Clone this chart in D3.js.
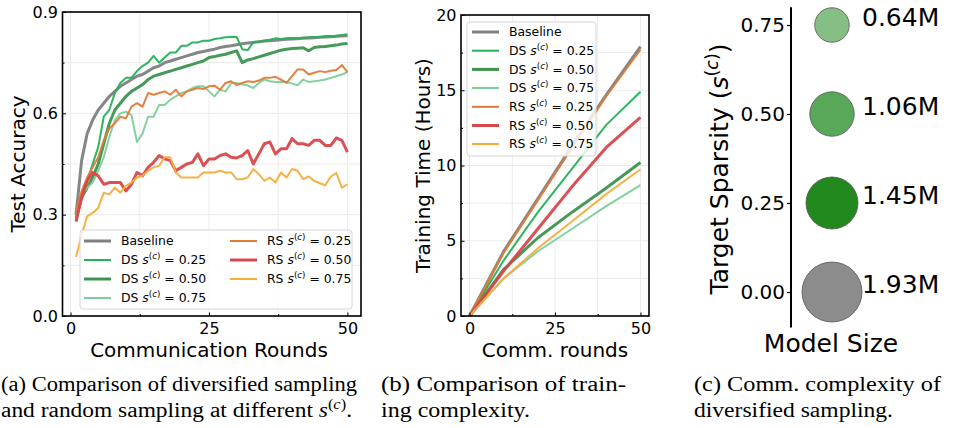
<!DOCTYPE html>
<html>
<head>
<meta charset="UTF-8">
<script src="https://cdn.jsdelivr.net/npm/d3@7"></script>
<style>
body{margin:0;background:#fff}
svg{display:block;font-family:"DejaVu Sans",sans-serif}
.grid line{stroke:#ebebeb;stroke-width:1}
</style>
</head>
<body>
<script>

// ---- data ----
var rounds = [1,2,3,4,5,6,7,8,9,10,11,12,13,14,15,16,17,18,19,20,21,22,23,24,25,
              26,27,28,29,30,31,32,33,34,35,36,37,38,39,40,41,42,43,44,45,46,47,48,49,50];

var accBaseline = [0.30,0.46,0.54,0.58,0.61,0.63,0.65,0.665,0.68,0.69,0.70,0.71,0.715,0.725,0.735,0.74,0.75,0.755,0.76,0.765,
                   0.77,0.775,0.78,0.783,0.787,0.79,0.795,0.798,0.80,0.803,0.806,0.808,0.81,0.812,0.814,0.815,0.816,0.818,0.819,0.82,
                   0.821,0.822,0.823,0.824,0.825,0.826,0.827,0.828,0.829,0.83];
var accDs25 = [0.28,0.36,0.40,0.45,0.50,0.59,0.61,0.66,0.69,0.705,0.705,0.725,0.74,0.75,0.77,0.75,0.765,0.78,0.78,0.80,
               0.80,0.81,0.81,0.815,0.815,0.82,0.822,0.825,0.826,0.826,0.79,0.787,0.81,0.812,0.815,0.818,0.822,0.82,0.822,0.823,
               0.822,0.824,0.825,0.826,0.826,0.828,0.829,0.83,0.832,0.834];
var accDs50 = [0.29,0.35,0.38,0.41,0.45,0.51,0.57,0.61,0.63,0.65,0.665,0.675,0.685,0.70,0.71,0.715,0.72,0.725,0.73,0.735,
               0.74,0.745,0.75,0.755,0.765,0.768,0.772,0.775,0.78,0.785,0.75,0.758,0.762,0.767,0.772,0.777,0.782,0.787,0.79,0.792,
               0.793,0.794,0.785,0.795,0.797,0.798,0.80,0.802,0.805,0.807];
var accDs75 = [0.29,0.36,0.38,0.395,0.43,0.47,0.53,0.58,0.60,0.605,0.595,0.515,0.54,0.59,0.59,0.625,0.625,0.64,0.65,0.66,
               0.665,0.675,0.68,0.68,0.665,0.65,0.67,0.665,0.69,0.69,0.685,0.683,0.675,0.69,0.70,0.695,0.693,0.693,0.693,0.688,
               0.683,0.70,0.693,0.695,0.697,0.70,0.705,0.71,0.715,0.722];
var accRs25 = [0.31,0.37,0.41,0.44,0.47,0.52,0.555,0.57,0.59,0.585,0.62,0.63,0.62,0.66,0.655,0.66,0.665,0.655,0.67,0.65,
               0.665,0.67,0.675,0.672,0.68,0.682,0.67,0.69,0.695,0.684,0.69,0.695,0.693,0.697,0.705,0.705,0.708,0.70,0.69,0.71,
               0.73,0.73,0.715,0.72,0.725,0.722,0.726,0.728,0.743,0.722];
var accRs50 = [0.28,0.35,0.40,0.425,0.415,0.39,0.395,0.395,0.395,0.37,0.39,0.425,0.415,0.44,0.455,0.475,0.465,0.46,0.43,0.44,
               0.45,0.455,0.48,0.445,0.465,0.465,0.475,0.48,0.47,0.468,0.475,0.49,0.45,0.48,0.51,0.515,0.48,0.495,0.495,0.525,
               0.51,0.51,0.505,0.52,0.52,0.505,0.505,0.527,0.52,0.485];
var accRs75 = [0.175,0.24,0.295,0.305,0.32,0.365,0.36,0.38,0.365,0.385,0.395,0.41,0.415,0.43,0.44,0.445,0.47,0.47,0.425,0.41,
               0.41,0.41,0.41,0.425,0.425,0.425,0.43,0.425,0.425,0.405,0.405,0.41,0.435,0.42,0.40,0.41,0.395,0.425,0.41,0.435,
               0.43,0.405,0.413,0.40,0.393,0.387,0.413,0.423,0.38,0.39];

var timeRounds   = [0,10,20,30,40,50];
var timeBaseline = [0,4.3,7.8,11.3,14.7,17.9];
var timeDs25     = [0,3.7,6.9,9.8,12.7,14.9];
var timeDs50     = [0,3.1,5.2,6.9,8.5,10.2];
var timeDs75     = [0,2.5,4.3,5.8,7.3,8.7];
var timeRs25     = [0,4.2,7.7,11.2,14.6,17.7];
var timeRs50     = [0,3.0,5.8,8.6,11.2,13.2];
var timeRs75     = [0,2.5,4.5,6.3,8.1,9.75];

var sparsity   = [0.75,0.50,0.25,0.00];
var modelSize  = [0.64,1.06,1.45,1.93];
var sizeLabels = ["0.64M","1.06M","1.45M","1.93M"];

var accTicks = [0,0.3,0.6,0.9], accMinor = [0.15,0.45,0.75];
var roundTicks = [0,25,50], roundMinor = [12.5,37.5];
var timeTicks = [0,5,10,15,20], timeMinor = [2.5,7.5,12.5,17.5];
var sparsityTicks = [0,0.25,0.5,0.75];

// series table built from the arrays above
var series = [
  {name:"Baseline", val:null,   acc:accBaseline, time:timeBaseline, color:"#808080", w:3},
  {name:"DS",       val:"0.25", acc:accDs25,     time:timeDs25,     color:"#25b05a", w:2},
  {name:"DS",       val:"0.50", acc:accDs50,     time:timeDs50,     color:"#3d9450", w:3},
  {name:"DS",       val:"0.75", acc:accDs75,     time:timeDs75,     color:"#7ccf9c", w:2},
  {name:"RS",       val:"0.25", acc:accRs25,     time:timeRs25,     color:"#e07a36", w:2},
  {name:"RS",       val:"0.50", acc:accRs50,     time:timeRs50,     color:"#d9474a", w:3},
  {name:"RS",       val:"0.75", acc:accRs75,     time:timeRs75,     color:"#f6ad3c", w:2}
];
var circleColors = ["#85bf85","#59a859","#22891f","#8c8c8c"];

var svg = d3.select("body").append("svg").attr("width",956).attr("height",428);

// s^(c) label in tspans
function sLabel(t, prefix, fs, tail){
  if(prefix) t.append("tspan").text(prefix);
  t.append("tspan").attr("font-style","italic").text("s");
  t.append("tspan").attr("font-size",fs*0.7).attr("dy",-fs*0.42).text("(");
  t.append("tspan").attr("font-size",fs*0.7).attr("font-style","italic").text("c");
  t.append("tspan").attr("font-size",fs*0.7).text(")");
  t.append("tspan").attr("dy",fs*0.42).text(tail);
}

function legendText(t, d){
  if(d.val===null) t.text(d.name);
  else sLabel(t, d.name+" ", 12.4, " = "+d.val);
}

function panel(opt){
  var x = d3.scaleLinear().domain(opt.xd).range([opt.left,opt.right]);
  var y = d3.scaleLinear().domain(opt.yd).range([opt.bottom,opt.top]);
  var g = svg.append("g");

  var grid = g.append("g").attr("class","grid");
  grid.selectAll(".gx").data(opt.xt.concat(opt.xm)).join("line")
    .attr("x1",d=>x(d)).attr("x2",d=>x(d)).attr("y1",opt.top).attr("y2",opt.bottom);
  grid.selectAll(".gy").data(opt.yt.concat(opt.ym)).join("line")
    .attr("y1",d=>y(d)).attr("y2",d=>y(d)).attr("x1",opt.left).attr("x2",opt.right);

  var line = d3.line().x((d,i)=>x(opt.xs[i])).y(d=>y(d));
  g.selectAll(".series").data(series).join("path")
    .attr("fill","none").attr("stroke",d=>d.color).attr("stroke-width",d=>d.w)
    .attr("stroke-linejoin","round").attr("opacity",0.95)
    .attr("d",d=>line(d[opt.key]));

  // legend
  var L = opt.legend;
  g.append("rect").attr("x",L.x).attr("y",L.y).attr("width",L.w).attr("height",L.h)
    .attr("rx",3).attr("fill","white").attr("fill-opacity",0.8).attr("stroke","#d6d6d6");
  series.forEach(function(d,i){
    var c = L.cols[i];
    g.append("line").attr("x1",c[0]).attr("x2",c[0]+27).attr("y1",c[1]).attr("y2",c[1])
      .attr("stroke",d.color).attr("stroke-width",d.w);
    var t = g.append("text").attr("x",c[0]+37).attr("y",c[1]).attr("dy","0.36em")
      .attr("font-size",12.4);
    legendText(t,d);
  });

  // axes (ticks inward)
  function fixAxis(a){ a.select(".domain").remove(); a.attr("font-size",16).attr("font-family","DejaVu Sans");
    a.selectAll(".tick line").attr("stroke","#000"); }
  g.append("g").attr("transform","translate(0,"+opt.bottom+")")
    .call(d3.axisBottom(x).tickValues(opt.xt).tickSize(-3.5).tickPadding(6.5).tickFormat(d3.format("d"))).call(fixAxis);
  g.append("g").attr("transform","translate(0,"+opt.bottom+")")
    .call(d3.axisBottom(x).tickValues(opt.xm).tickSize(-2).tickFormat("")).call(fixAxis);
  g.append("g").attr("transform","translate("+opt.left+",0)")
    .call(d3.axisLeft(y).tickValues(opt.yt).tickSize(-3.5).tickPadding(4.5).tickFormat(d3.format(opt.yf))).call(fixAxis);
  g.append("g").attr("transform","translate("+opt.left+",0)")
    .call(d3.axisLeft(y).tickValues(opt.ym).tickSize(-2).tickFormat("")).call(fixAxis);

  g.append("rect").attr("x",opt.left).attr("y",opt.top).attr("width",opt.right-opt.left)
    .attr("height",opt.bottom-opt.top).attr("fill","none").attr("stroke","#000").attr("stroke-width",1.6);

  g.append("text").attr("x",(x(0)+x(50))/2).attr("y",357).attr("text-anchor","middle")
    .attr("font-size",20).text(opt.xlabel);
  g.append("text").attr("transform","translate("+opt.ylx+","+((opt.top+opt.bottom)/2)+") rotate(-90)")
    .attr("text-anchor","middle").attr("font-size",20).text(opt.ylabel);
}

panel({key:"acc", xs:rounds, left:62.5, right:361, top:12, bottom:316,
  xd:[-1.45,52.45], yd:[0,0.9], xt:roundTicks, xm:roundMinor, yt:accTicks, ym:accMinor, yf:".1f",
  xlabel:"Communication Rounds", ylabel:"Test Accuracy", ylx:25,
  legend:{x:80, y:230, w:272, h:79,
    cols:[[84,241],[84,260],[84,279],[84,298],[230,241],[230,260],[230,279]]}});

panel({key:"time", xs:timeRounds, left:461, right:649, top:15, bottom:316,
  xd:[-2.5,52.5], yd:[0,20], xt:roundTicks, xm:roundMinor, yt:timeTicks, ym:timeMinor, yf:"d",
  xlabel:"Comm. rounds", ylabel:"Training Time (Hours)", ylx:430,
  legend:{x:467, y:22, w:129, h:134,
    cols:[[472,32],[472,50.7],[472,69.4],[472,88],[472,106.8],[472,125.5],[472,144]]}});

// ---- panel (c): model size bubbles ----
(function(){
  var y = d3.scaleLinear().domain([-0.1,0.8]).range([327.6,7.2]);
  var r = d3.scaleSqrt().domain([0,1]).range([0,21.6]);
  var cx = 832, spine = 791;
  var g = svg.append("g");
  g.selectAll("circle").data(sparsity).join("circle")
    .attr("cx",cx).attr("cy",d=>y(d)).attr("r",(d,i)=>r(modelSize[i]))
    .attr("fill",(d,i)=>circleColors[i]).attr("stroke","#555").attr("stroke-width",0.8);
  g.selectAll(".lab").data(sparsity).join("text")
    .attr("x",862).attr("y",d=>y(d)+1).attr("font-size",25).text((d,i)=>sizeLabels[i]);
  var ax = g.append("g").attr("transform","translate("+spine+",0)")
    .call(d3.axisLeft(y).tickValues(sparsityTicks).tickSize(4).tickPadding(2).tickFormat(d3.format(".2f")));
  ax.attr("font-size",20).attr("font-family","DejaVu Sans");
  ax.select(".domain").remove();
  ax.selectAll(".tick line").attr("stroke","#000").attr("stroke-width",1.2);
  g.append("line").attr("x1",spine).attr("x2",spine).attr("y1",y.range()[1]).attr("y2",y.range()[0])
    .attr("stroke","#000").attr("stroke-width",2);
  g.append("text").attr("x",831).attr("y",352).attr("text-anchor","middle").attr("font-size",25).text("Model Size");
  var t = g.append("text").attr("transform","translate(728,169) rotate(-90)")
    .attr("text-anchor","middle").attr("font-size",25);
  sLabel(t,"Target Sparsity (",25,")");
})();

// ---- captions ----
var captions = [
  {x:1,   y:391, len:356, text:"(a) Comparison of diversified sampling"},
  {x:1,   y:417, len:351, text:"and random sampling at different ", math:true},
  {x:381, y:391, len:245, text:"(b) Comparison of train-"},
  {x:381, y:417, len:149, text:"ing complexity."},
  {x:694, y:391, len:247, text:"(c) Comm. complexity of"},
  {x:694, y:417, len:199, text:"diversified sampling."}
];
captions.forEach(function(c){
  var t = svg.append("text").attr("x",c.x).attr("y",c.y).attr("font-family","Liberation Serif")
    .attr("font-size",20).attr("textLength",c.len).attr("lengthAdjust","spacingAndGlyphs");
  if(c.math) sLabel(t, c.text, 20, ".");
  else t.text(c.text);
});

</script>
</body>
</html>
